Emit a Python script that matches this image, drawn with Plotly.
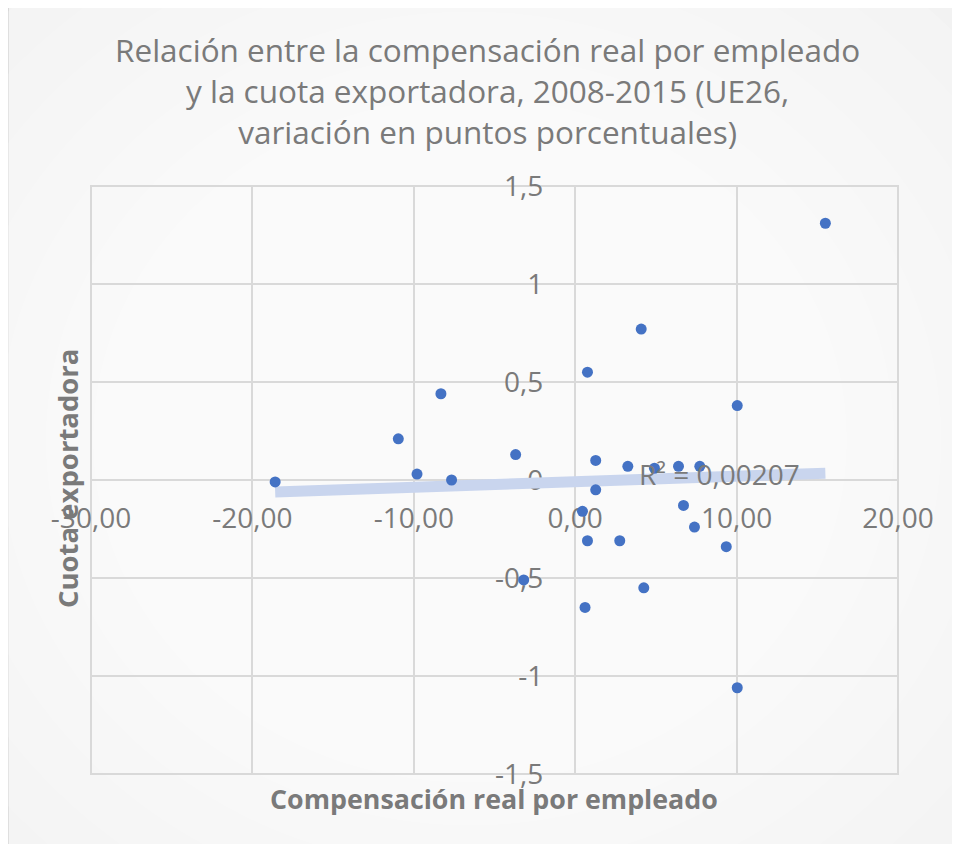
import numpy as np
import plotly.graph_objects as go

# --- data ---
comp_real = [-18.59, -10.96, -8.32, -9.80, -7.66, 15.50, 4.09, 0.76, 10.04, -3.69,
             1.27, 3.26, 4.91, 6.40, 7.72, 1.27, 0.45, 6.71, 7.39, 0.76,
             2.76, 9.36, -3.19, 4.25, 0.61, 10.04]
cuota_exp = [-0.01, 0.21, 0.44, 0.03, 0.00, 1.31, 0.77, 0.55, 0.38, 0.13,
             0.10, 0.07, 0.06, 0.07, 0.07, -0.05, -0.16, -0.13, -0.24, -0.31,
             -0.31, -0.34, -0.51, -0.55, -0.65, -1.06]

x_tickvals = [-30, -20, -10, 0, 10, 20]
x_ticktext = ["-30,00", "-20,00", "-10,00", "0,00", "10,00", "20,00"]
y_tickvals = [-1.5, -1, -0.5, 0, 0.5, 1, 1.5]
y_ticktext = ["-1,5", "-1", "-0,5", "0", "0,5", "1", "1,5"]

title_lines = ["Relación entre la compensación real por empleado",
               "y la cuota exportadora, 2008-2015 (UE26,",
               "variación en puntos porcentuales)"]
x_title = "Compensación real por empleado"
y_title = "Cuota exportadora"
r2_label = "R² = 0,00207"

# --- linear trend (least squares) ---
xa = np.array(comp_real)
ya = np.array(cuota_exp)
slope, intercept = np.polyfit(xa, ya, 1)
trend_x = [xa.min(), xa.max()]
trend_y = [slope * v + intercept for v in trend_x]

GREY = "#7a7a7a"
GRID = "#d9d9d9"

fig = go.Figure()
fig.add_trace(go.Scatter(x=trend_x, y=trend_y, mode="lines",
                         line=dict(color="#c9d5ee", width=11),
                         hoverinfo="skip", showlegend=False))
fig.add_trace(go.Scatter(x=comp_real, y=cuota_exp, mode="markers",
                         marker=dict(color="#4472c4", size=11),
                         showlegend=False))

# page has an 8px body margin: work in page pixels, convert to figure pixels
OFF = 8
W, H = 960 - 2 * OFF, 852 - 2 * OFF
PL, PR, PT, PB = 91, 898, 186, 774          # plot area in page pixels
L, T = PL - OFF, PT - OFF
R = W - (PR - OFF)
B = H - (PB - OFF)
pw, ph = PR - PL, PB - PT

def px_to_paper_x(p):
    return (p - PL) / pw

def px_to_paper_y(p):
    return (PB - p) / ph

shapes = []
# outer frame with light background
shapes.append(dict(type="rect", xref="paper", yref="paper", layer="below",
                   x0=px_to_paper_x(8), x1=px_to_paper_x(1000),
                   y0=px_to_paper_y(900), y1=px_to_paper_y(5),
                   fillcolor="#f2f2f2", line=dict(color="#d9d9d9", width=2)))
# soft radial lightening towards the centre
n = 14
for i in range(n):
    f = 1 - i / n
    rx, ry = 660 * f, 600 * f
    cx, cy = 470, 440
    shapes.append(dict(type="circle", xref="paper", yref="paper", layer="below",
                       x0=px_to_paper_x(cx - rx), x1=px_to_paper_x(cx + rx),
                       y0=px_to_paper_y(cy + ry), y1=px_to_paper_y(cy - ry),
                       fillcolor="rgba(255,255,255,0.16)", line=dict(width=0)))
# plot area border
shapes.append(dict(type="rect", xref="paper", yref="paper", layer="below",
                   x0=0, x1=1, y0=0, y1=1, line=dict(color=GRID, width=2)))

annotations = []
annotations.append(dict(text="<br>".join(title_lines), xref="paper", yref="paper",
                        x=px_to_paper_x(487), y=px_to_paper_y(90),
                        xanchor="center", yanchor="middle", showarrow=False,
                        align="center",
                        font=dict(family="Open Sans", size=31.5, color=GREY)))
annotations.append(dict(text="<b>" + x_title + "</b>", xref="paper", yref="paper",
                        x=px_to_paper_x(494), y=px_to_paper_y(798),
                        xanchor="center", yanchor="middle", showarrow=False,
                        font=dict(family="Open Sans", size=26.8, color=GREY)))
annotations.append(dict(text="<b>" + y_title + "</b>", xref="paper", yref="paper",
                        x=px_to_paper_x(67), y=px_to_paper_y(479), textangle=-90,
                        xanchor="center", yanchor="middle", showarrow=False,
                        font=dict(family="Open Sans", size=27.5, color=GREY)))
annotations.append(dict(text=r2_label, xref="x", yref="y",
                        x=3.84, y=0.033, xanchor="left", yanchor="middle",
                        showarrow=False,
                        font=dict(family="Open Sans", size=28, color=GREY)))

fig.update_layout(
    width=W, height=H,
    margin=dict(l=L, r=R, t=T, b=B, pad=0),
    paper_bgcolor="white",
    plot_bgcolor="rgba(0,0,0,0)",
    shapes=shapes,
    annotations=annotations,
    xaxis=dict(range=[-30, 20], tickvals=x_tickvals, ticktext=x_ticktext,
               anchor="free", position=0.5, showline=False, ticks="",
               showgrid=True, gridcolor=GRID, gridwidth=2,
               zeroline=True, zerolinecolor=GRID, zerolinewidth=2,
               tickfont=dict(family="Open Sans", size=28, color=GREY),
               ticklabelstandoff=19, layer="below traces", fixedrange=True),
    yaxis=dict(range=[-1.5, 1.5], tickvals=y_tickvals, ticktext=y_ticktext,
               anchor="free", position=0.6, showline=False, ticks="",
               showgrid=True, gridcolor=GRID, gridwidth=2,
               zeroline=True, zerolinecolor=GRID, zerolinewidth=2,
               tickfont=dict(family="Open Sans", size=28, color=GREY),
               ticklabelstandoff=32, layer="below traces", fixedrange=True),
)

fig.write_html("out.html")
